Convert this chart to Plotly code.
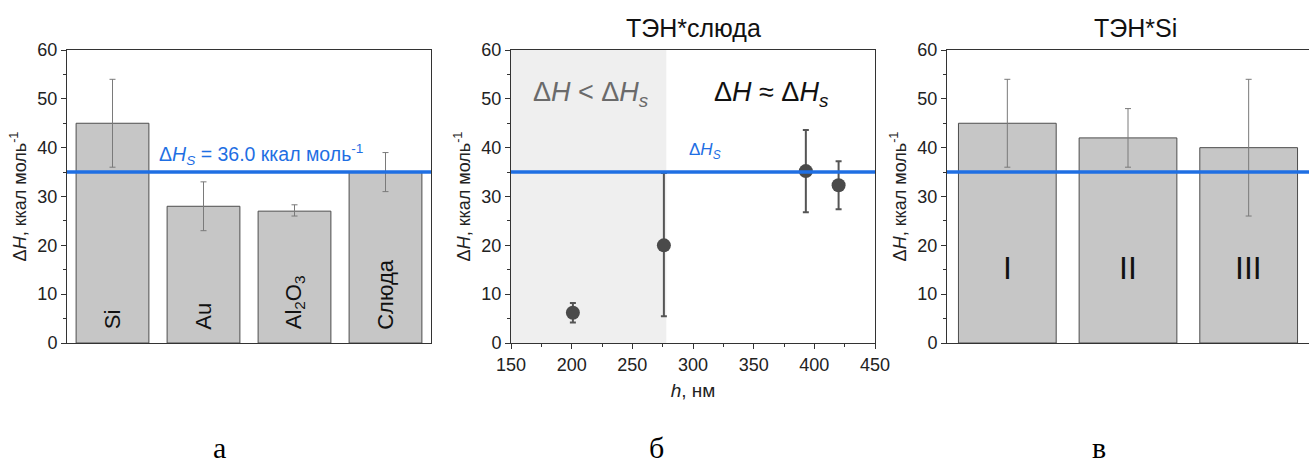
import plotly.graph_objects as go

# ---------------- data ----------------
a_cats = ["Si", "Au", "Al<sub>2</sub>O<sub>3</sub>", "Слюда"]
a_vals = [45, 28, 27, 35]
a_err_plus = [9, 5, 1.3, 4]
a_err_minus = [9, 5, 1.0, 4]

b_h = [201, 276, 393, 420]
b_vals = [6.2, 20.0, 35.2, 32.3]
b_err_plus = [2.0, 14.8, 8.4, 4.9]
b_err_minus = [2.0, 14.5, 8.4, 4.9]
b_shade_end = 278

c_cats = ["I", "II", "III"]
c_vals = [45, 42, 40]
c_err_plus = [9, 6, 14]
c_err_minus = [9, 6, 14]

dHs = 35.0
y_ticks = [0, 10, 20, 30, 40, 50, 60]
b_x_ticks = [150, 200, 250, 300, 350, 400, 450]
panel_letters = ["а", "б", "в"]

# ---------------- style ----------------
BAR = "#c6c6c6"
EDGE = "#4d4d4d"
BLUE = "#1f6fe3"
AX = "#333333"
FONT = "Liberation Sans"

W, H = 1309, 463
def px(x):
    return x / W
def py(y):
    return 1 - y / H

ydom = [py(343), py(50)]

fig = go.Figure()

# panel a
fig.add_trace(go.Bar(
    x=list(range(len(a_cats))), y=a_vals, width=0.8,
    marker=dict(color=BAR, line=dict(color=EDGE, width=1)),
    error_y=dict(type="data", array=a_err_plus, arrayminus=a_err_minus,
                 color="#7a7a7a", thickness=1, width=3),
    xaxis="x", yaxis="y", showlegend=False))

# panel b
fig.add_trace(go.Scatter(
    x=b_h, y=b_vals, mode="markers",
    marker=dict(color="#4a4a4a", size=14),
    error_y=dict(type="data", array=b_err_plus, arrayminus=b_err_minus,
                 color="#555555", thickness=2, width=3),
    xaxis="x2", yaxis="y2", showlegend=False))

# panel c
fig.add_trace(go.Bar(
    x=list(range(len(c_cats))), y=c_vals, width=0.81,
    marker=dict(color=BAR, line=dict(color=EDGE, width=1)),
    error_y=dict(type="data", array=c_err_plus, arrayminus=c_err_minus,
                 color="#7a7a7a", thickness=1, width=3),
    xaxis="x3", yaxis="y3", showlegend=False))

yaxis_common = dict(
    range=[0, 60], tickvals=y_ticks, ticks="outside", ticklen=5, tickwidth=1,
    tickcolor=AX, showline=True, linecolor=AX, linewidth=1, mirror=True,
    showgrid=False, zeroline=False, domain=ydom,
    tickfont=dict(family=FONT, size=18, color="#222"),
    minor=dict(ticks="outside", ticklen=3, tickcolor=AX, dtick=5),
    title=dict(text="Δ<i>H</i>, ккал моль<sup>-1</sup>",
               font=dict(family=FONT, size=18, color="#222"), standoff=6),
)

fig.update_layout(
    width=W, height=H, margin=dict(l=0, r=0, t=0, b=0, autoexpand=False),
    paper_bgcolor="white", plot_bgcolor="white",
    bargap=0.2,
    xaxis=dict(domain=[px(67), px(431)], range=[-0.5, 3.5], showticklabels=False,
               ticks="", showline=True, linecolor=AX, linewidth=1, mirror=True,
               showgrid=False, zeroline=False),
    yaxis=dict(anchor="x", **yaxis_common),
    xaxis2=dict(domain=[px(511), px(875)], range=[150, 450], tickvals=b_x_ticks,
                ticks="outside", ticklen=5, tickcolor=AX, showline=True,
                linecolor=AX, linewidth=1, mirror=True, showgrid=False,
                zeroline=False, anchor="y2",
                minor=dict(ticks="outside", ticklen=3, tickcolor=AX, dtick=25),
                tickfont=dict(family=FONT, size=18, color="#222"),
                title=dict(text="<i>h</i>, нм", font=dict(family=FONT, size=19, color="#222"),
                           standoff=10)),
    yaxis2=dict(anchor="x2", **yaxis_common),
    xaxis3=dict(domain=[px(947), 1.0], range=[-0.5, 2.5], showticklabels=False,
                ticks="", showline=True, linecolor=AX, linewidth=1, mirror=True,
                showgrid=False, zeroline=False, anchor="y3"),
    yaxis3=dict(anchor="x3", **yaxis_common),
)

# shading and reference lines
fig.add_shape(type="rect", xref="x2", yref="y2", x0=150, x1=b_shade_end, y0=0, y1=60,
              fillcolor="#efefef", line=dict(width=0), layer="below")
for xr, yr in [("x", "y"), ("x2", "y2"), ("x3", "y3")]:
    fig.add_shape(type="line", xref=f"{xr} domain", yref=yr, x0=0, x1=1, y0=dHs, y1=dHs,
                  line=dict(color=BLUE, width=3.5), layer="above")

ann = []
# bar labels panel a
for i, lab in enumerate(a_cats):
    ann.append(dict(x=i, y=2.3, xref="x", yref="y", text=lab, textangle=-90,
                    showarrow=False, xanchor="center", yanchor="bottom",
                    font=dict(family=FONT, size=22, color="#111")))
ann.append(dict(x=1.63, y=38.6, xref="x", yref="y", xanchor="center", yanchor="middle",
                text="Δ<i>H</i><sub><i>S</i></sub> = 36.0 ккал моль<sup>-1</sup>",
                showarrow=False, font=dict(family=FONT, size=19.5, color=BLUE)))
# panel c labels
for i, lab in enumerate(c_cats):
    ann.append(dict(x=i, y=15.3, xref="x3", yref="y3", text=lab, showarrow=False,
                    xanchor="center", yanchor="middle",
                    font=dict(family=FONT, size=32, color="#111")))
# panel b texts
ann.append(dict(x=216, y=51, xref="x2", yref="y2", xanchor="center", yanchor="middle",
                text="Δ<i>H</i> < Δ<i>H</i><sub><i>s</i></sub>", showarrow=False,
                font=dict(family=FONT, size=27, color="#6a6a6a")))
ann.append(dict(x=365, y=51, xref="x2", yref="y2", xanchor="center", yanchor="middle",
                text="Δ<i>H</i> ≈ Δ<i>H</i><sub><i>s</i></sub>", showarrow=False,
                font=dict(family=FONT, size=27, color="#111")))
ann.append(dict(x=310, y=39.3, xref="x2", yref="y2", xanchor="center", yanchor="middle",
                text="Δ<i>H</i><sub><i>S</i></sub>", showarrow=False,
                font=dict(family=FONT, size=17, color=BLUE)))
# titles
ann.append(dict(x=px(693), y=py(28), xref="paper", yref="paper", text="ТЭН*слюда",
                xanchor="center", yanchor="middle",
                showarrow=False, font=dict(family=FONT, size=25, color="#111")))
ann.append(dict(x=px(1135), y=py(28), xref="paper", yref="paper", text="ТЭН*Si",
                xanchor="center", yanchor="middle",
                showarrow=False, font=dict(family=FONT, size=25, color="#111")))
# panel letters
for xp, lab in zip([219, 656, 1099], panel_letters):
    ann.append(dict(x=px(xp), y=py(447), xref="paper", yref="paper", text=lab,
                    xanchor="center", yanchor="middle",
                    showarrow=False, font=dict(family="Liberation Serif", size=30, color="#000")))
fig.update_layout(annotations=ann)

fig.write_html("out.html")
